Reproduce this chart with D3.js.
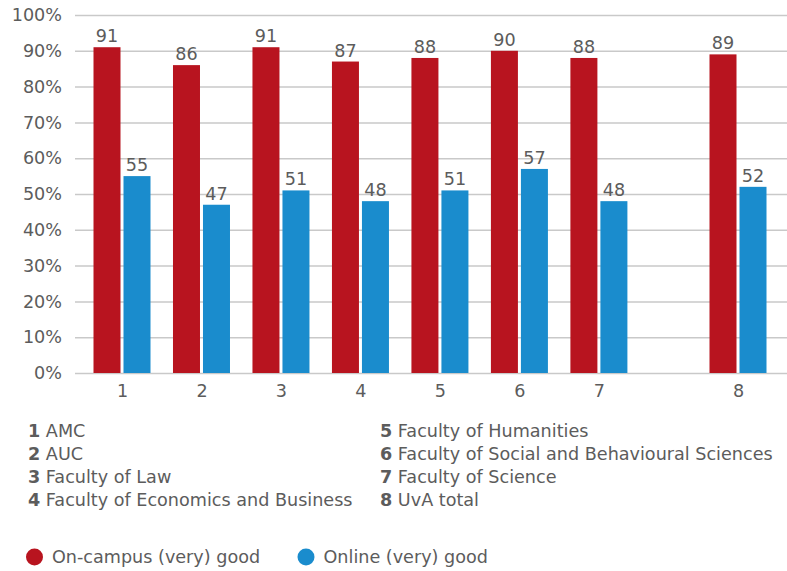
<!DOCTYPE html>
<html>
<head>
<meta charset="utf-8">
<script src="https://cdn.jsdelivr.net/npm/d3@7"></script>
<style>
  html, body { margin: 0; padding: 0; background: #fff; }
  svg { display: block; font-family: "DejaVu Sans", Verdana, sans-serif; }
</style>
</head>
<body>
<svg id="chart" width="787" height="571"></svg>
<script>
// Satisfaction with teaching, on-campus vs online, per faculty
const categories = ["1", "2", "3", "4", "5", "6", "7", "8"];
const facultyNames = [
  "AMC",
  "AUC",
  "Faculty of Law",
  "Faculty of Economics and Business",
  "Faculty of Humanities",
  "Faculty of Social and Behavioural Sciences",
  "Faculty of Science",
  "UvA total"
];
const onCampus = [91, 86, 91, 87, 88, 90, 88, 89];
const online = [55, 47, 51, 48, 51, 57, 48, 52];
const yTicks = [0, 10, 20, 30, 40, 50, 60, 70, 80, 90, 100];
const seriesNames = ["On-campus (very) good", "Online (very) good"];
const colors = ["#b8141f", "#1a8ccd"];

const svg = d3.select("#chart");
const textColor = "#5c5c5c";
const fontSize = 17.6;

// Plot area
const plotLeft = 75, plotRight = 787, plotTop = 15, plotBottom = 373;

// The total column sits apart from the faculties, separated by an extra gap
const totalGap = 0.75;
const slotOf = i => (i === categories.length - 1 ? i + totalGap : i);

const x = d3.scaleLinear()
  .domain([0, categories.length - 1 + totalGap])
  .range([122, 738]);

const y = d3.scaleLinear().domain([0, 100]).range([plotBottom, plotTop]);

const barW = 27, barOffset = 15;

// Gridlines and y axis labels
const yAxis = d3.axisLeft(y)
  .tickValues(yTicks)
  .tickSize(-(plotRight - plotLeft))
  .tickPadding(13)
  .tickFormat(d => d + "%");

const gy = svg.append("g")
  .attr("transform", `translate(${plotLeft},0)`)
  .call(yAxis);
gy.select(".domain").remove();
gy.selectAll(".tick line").attr("stroke", "#c9c9c9").attr("stroke-width", 1.5);
gy.selectAll(".tick text")
  .attr("fill", textColor)
  .attr("font-size", fontSize)
  .attr("font-family", "DejaVu Sans, Verdana, sans-serif");

// Category axis labels
const xAxis = d3.axisBottom(x)
  .tickValues(categories.map((c, i) => slotOf(i)))
  .tickSize(0)
  .tickPadding(12)
  .tickFormat((d, i) => categories[i]);
const gx = svg.append("g")
  .attr("transform", `translate(0,${plotBottom})`)
  .call(xAxis);
gx.select(".domain").remove();
gx.selectAll(".tick text")
  .attr("fill", textColor)
  .attr("font-size", fontSize)
  .attr("font-family", "DejaVu Sans, Verdana, sans-serif");

// Bars
const series = [onCampus, online];
series.forEach((vals, s) => {
  const dx = s === 0 ? -barOffset : barOffset;
  const g = svg.append("g");
  g.selectAll("rect")
    .data(vals)
    .join("rect")
    .attr("x", (d, i) => x(slotOf(i)) + dx - barW / 2)
    .attr("y", d => y(d))
    .attr("width", barW)
    .attr("height", d => y(0) - y(d))
    .attr("fill", colors[s]);
  g.selectAll("text")
    .data(vals)
    .join("text")
    .attr("x", (d, i) => x(slotOf(i)) + dx)
    .attr("y", d => y(d) - 5)
    .attr("text-anchor", "middle")
    .attr("fill", textColor)
    .attr("font-size", fontSize)
    .text(d => d);
});

// Faculty key, two columns of four
const key = svg.append("g");
const keyCols = [28, 380], keyTop = 437, keyStep = 23;
facultyNames.forEach((name, i) => {
  const col = Math.floor(i / 4), row = i % 4;
  const t = key.append("text")
    .attr("x", keyCols[col])
    .attr("y", keyTop + row * keyStep)
    .attr("fill", textColor)
    .attr("font-size", fontSize);
  t.append("tspan").attr("font-weight", "bold").text(categories[i]);
  t.append("tspan").text(" " + name);
});

// Series legend
const legend = svg.append("g");
const legendX = [34.5, 306], legendY = 557;
seriesNames.forEach((name, s) => {
  legend.append("circle")
    .attr("cx", legendX[s])
    .attr("cy", legendY)
    .attr("r", 8.5)
    .attr("fill", colors[s]);
  legend.append("text")
    .attr("x", legendX[s] + 17.5)
    .attr("y", legendY + 6)
    .attr("fill", textColor)
    .attr("font-size", fontSize)
    .text(name);
});
</script>
</body>
</html>
